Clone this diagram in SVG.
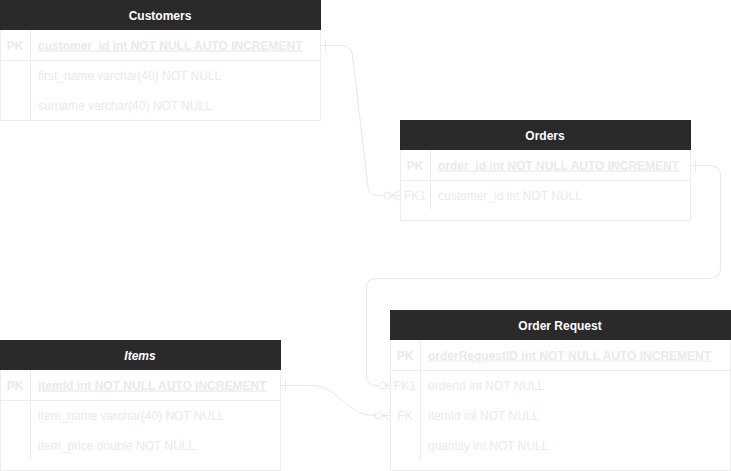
<svg xmlns="http://www.w3.org/2000/svg" width="731" height="471" viewBox="0 0 731 471">
<style>
.box{fill:#ffffff;stroke:#ededed;stroke-width:1}
.hdr{fill:#2a2a2a}
.sep{stroke:#ededed;stroke-width:1;fill:none}
.title{font-family:"Liberation Sans",Arial,sans-serif;font-size:12px;font-weight:bold;fill:#ffffff;text-anchor:middle}
.key{font-family:"Liberation Sans",Arial,sans-serif;font-size:12px;fill:#eaeaea;text-anchor:middle}
.col{font-family:"Liberation Sans",Arial,sans-serif;font-size:12px;fill:#eaeaea}
.pk{text-decoration:underline;font-weight:bold}
.pkk{font-weight:bold}
.conn{fill:none;stroke:#e8e8e8;stroke-width:1}
.circ{fill:#ffffff;stroke:#e8e8e8;stroke-width:1}
</style>
<rect width="731" height="471" fill="#ffffff"/>
<g id="connectors">
  <g id="c1">
    <path class="conn" d="M320.5,45.5 H343 Q351,45.5 352.5,55 L368,187 Q369.5,195.5 378,195.5 H384"/>
    <line class="conn" x1="325.5" y1="40" x2="325.5" y2="51"/>
    <circle class="circ" cx="387.5" cy="195.5" r="3.5"/>
    <path class="conn" d="M391,195.5 L400,190.5 M391,195.5 L400,195.5 M391,195.5 L400,200.5"/>
  </g>
  <g id="c2">
    <path class="conn" d="M690.5,165.5 H710 Q720.5,165.5 720.5,176 V268 Q720.5,278.5 710,278.5 H376 Q366.5,278.5 366.5,288 V375 Q366.5,385.5 376,385.5 H379"/>
    <line class="conn" x1="695.5" y1="160" x2="695.5" y2="171"/>
    <circle class="circ" cx="382.5" cy="385.5" r="3.5"/>
    <path class="conn" d="M386,385.5 L390,381.5 M386,385.5 L390,385.5 M386,385.5 L390,389.5"/>
  </g>
  <g id="c3">
    <path class="conn" d="M280.5,385.5 H310 C340,385.5 345,415.5 375,415.5"/>
    <line class="conn" x1="285.5" y1="380" x2="285.5" y2="391"/>
    <circle class="circ" cx="378.5" cy="415.5" r="3.5"/>
    <path class="conn" d="M382,415.5 L390,411 M382,415.5 L390,415.5 M382,415.5 L390,420"/>
  </g>
</g>
<g id="customers">
  <rect class="box" x="0.5" y="0.5" width="320" height="120"/>
  <rect class="hdr" x="0" y="0" width="321" height="30"/>
  <text class="title" x="160" y="19.5">Customers</text>
  <line class="sep" x1="0" y1="60.5" x2="320.5" y2="60.5"/>
  <line class="sep" x1="30.5" y1="30" x2="30.5" y2="120"/>
  <text class="key pkk" x="15" y="49.5">PK</text>
  <text class="col pk" x="38" y="49.5">customer_id int NOT NULL AUTO INCREMENT</text>
  <text class="col" x="38" y="79.5">first_name varchar(40) NOT NULL</text>
  <text class="col" x="38" y="109.5">surname varchar(40) NOT NULL</text>
</g>
<g id="orders">
  <rect class="box" x="400.5" y="120.5" width="290" height="100"/>
  <rect class="hdr" x="400" y="120" width="291" height="30"/>
  <text class="title" x="545" y="139.5">Orders</text>
  <line class="sep" x1="400" y1="180.5" x2="690.5" y2="180.5"/>
  <line class="sep" x1="430.5" y1="150" x2="430.5" y2="210"/>
  <text class="key pkk" x="415" y="169.5">PK</text>
  <text class="col pk" x="438" y="169.5">order_id int NOT NULL AUTO INCREMENT</text>
  <text class="key" x="415" y="199.5">FK1</text>
  <text class="col" x="438" y="199.5">customer_id int NOT NULL</text>
</g>
<g id="order-request">
  <rect class="box" x="390.5" y="310.5" width="340" height="160"/>
  <rect class="hdr" x="390" y="310" width="341" height="30"/>
  <text class="title" x="560" y="329.5">Order Request</text>
  <line class="sep" x1="390" y1="370.5" x2="730.5" y2="370.5"/>
  <line class="sep" x1="420.5" y1="340" x2="420.5" y2="460"/>
  <text class="key pkk" x="405" y="359.5">PK</text>
  <text class="col pk" x="428" y="359.5">orderRequestID int NOT NULL AUTO INCREMENT</text>
  <text class="key" x="405" y="389.5">FK1</text>
  <text class="col" x="428" y="389.5">orderId int NOT NULL</text>
  <text class="key" x="405" y="419.5">FK</text>
  <text class="col" x="428" y="419.5">itemId int NOT NULL</text>
  <text class="col" x="428" y="449.5">quantity int NOT NULL</text>
</g>
<g id="items">
  <rect class="box" x="0.5" y="340.5" width="280" height="130"/>
  <rect class="hdr" x="0" y="340" width="281" height="30"/>
  <text class="title" x="140" y="359.5" font-style="italic">Items</text>
  <line class="sep" x1="0" y1="400.5" x2="280.5" y2="400.5"/>
  <line class="sep" x1="30.5" y1="370" x2="30.5" y2="460"/>
  <text class="key pkk" x="15" y="389.5">PK</text>
  <text class="col pk" x="38" y="389.5">itemId int NOT NULL AUTO INCREMENT</text>
  <text class="col" x="38" y="419.5">item_name varchar(40) NOT NULL</text>
  <text class="col" x="38" y="449.5">item_price double NOT NULL</text>
</g>
</svg>
